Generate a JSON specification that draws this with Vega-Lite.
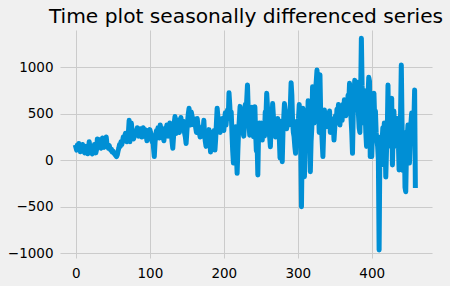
{
"$schema": "https://vega.github.io/schema/vega-lite/v6.json",
"width": 372, "height": 228,
"autosize": {"type": "none"},
"padding": {"left": 60, "top": 30, "right": 18, "bottom": 28},
"background": "#f0f0f0",
"config": {"view": {"stroke": null, "fill": "#f0f0f0"}, "font": "DejaVu Sans"},
"title": {"text": "Time plot seasonally differenced series", "fontSize": 20.2, "fontWeight": "normal", "font": "DejaVu Sans", "color": "#000000", "anchor": "middle", "frame": "group", "baseline": "bottom", "offset": 1, "dy": 18},
"data": {"values": [
{"t":0,"v":140},{"t":1,"v":110},{"t":2,"v":165},{"t":3,"v":120},{"t":4,"v":180},{"t":5,"v":150},{"t":6,"v":92},{"t":7,"v":110},{"t":8,"v":140},{"t":9,"v":170},
{"t":10,"v":120},{"t":11,"v":90},{"t":12,"v":80},{"t":13,"v":110},{"t":14,"v":150},{"t":15,"v":120},{"t":16,"v":70},{"t":17,"v":100},{"t":18,"v":200},{"t":19,"v":140},
{"t":20,"v":110},{"t":21,"v":90},{"t":22,"v":70},{"t":23,"v":130},{"t":24,"v":100},{"t":25,"v":170},{"t":26,"v":140},{"t":27,"v":80},{"t":28,"v":120},{"t":29,"v":230},
{"t":30,"v":180},{"t":31,"v":140},{"t":32,"v":220},{"t":33,"v":160},{"t":34,"v":130},{"t":35,"v":190},{"t":36,"v":240},{"t":37,"v":150},{"t":38,"v":140},{"t":39,"v":180},
{"t":40,"v":200},{"t":41,"v":250},{"t":42,"v":170},{"t":43,"v":150},{"t":44,"v":130},{"t":45,"v":160},{"t":46,"v":130},{"t":47,"v":110},{"t":48,"v":120},{"t":49,"v":90},
{"t":50,"v":100},{"t":51,"v":80},{"t":52,"v":70},{"t":53,"v":60},{"t":54,"v":50},{"t":55,"v":40},{"t":56,"v":60},{"t":57,"v":100},{"t":58,"v":130},{"t":59,"v":170},
{"t":60,"v":150},{"t":61,"v":200},{"t":62,"v":170},{"t":63,"v":200},{"t":64,"v":250},{"t":65,"v":210},{"t":66,"v":260},{"t":67,"v":290},{"t":68,"v":240},{"t":69,"v":200},
{"t":70,"v":250},{"t":71,"v":300},{"t":72,"v":430},{"t":73,"v":200},{"t":74,"v":280},{"t":75,"v":400},{"t":76,"v":310},{"t":77,"v":250},{"t":78,"v":230},{"t":79,"v":260},
{"t":80,"v":300},{"t":81,"v":320},{"t":82,"v":280},{"t":83,"v":350},{"t":84,"v":330},{"t":85,"v":260},{"t":86,"v":300},{"t":87,"v":340},{"t":88,"v":290},{"t":89,"v":250},
{"t":90,"v":310},{"t":91,"v":350},{"t":92,"v":300},{"t":93,"v":260},{"t":94,"v":330},{"t":95,"v":280},{"t":96,"v":210},{"t":97,"v":250},{"t":98,"v":320},{"t":99,"v":270},
{"t":100,"v":330},{"t":101,"v":300},{"t":102,"v":260},{"t":103,"v":200},{"t":104,"v":240},{"t":105,"v":130},{"t":106,"v":40},{"t":107,"v":190},{"t":108,"v":280},{"t":109,"v":320},
{"t":110,"v":260},{"t":111,"v":350},{"t":112,"v":300},{"t":113,"v":240},{"t":114,"v":380},{"t":115,"v":330},{"t":116,"v":270},{"t":117,"v":300},{"t":118,"v":250},{"t":119,"v":210},
{"t":120,"v":320},{"t":121,"v":350},{"t":122,"v":290},{"t":123,"v":380},{"t":124,"v":330},{"t":125,"v":260},{"t":126,"v":300},{"t":127,"v":400},{"t":128,"v":360},{"t":129,"v":300},
{"t":130,"v":200},{"t":131,"v":130},{"t":132,"v":250},{"t":133,"v":400},{"t":134,"v":470},{"t":135,"v":330},{"t":136,"v":290},{"t":137,"v":380},{"t":138,"v":430},{"t":139,"v":350},
{"t":140,"v":300},{"t":141,"v":400},{"t":142,"v":460},{"t":143,"v":380},{"t":144,"v":330},{"t":145,"v":420},{"t":146,"v":370},{"t":147,"v":290},{"t":148,"v":250},{"t":149,"v":180},
{"t":150,"v":300},{"t":151,"v":420},{"t":152,"v":500},{"t":153,"v":560},{"t":154,"v":450},{"t":155,"v":380},{"t":156,"v":520},{"t":157,"v":480},{"t":158,"v":400},{"t":159,"v":450},
{"t":160,"v":380},{"t":161,"v":420},{"t":162,"v":350},{"t":163,"v":300},{"t":164,"v":450},{"t":165,"v":380},{"t":166,"v":330},{"t":167,"v":290},{"t":168,"v":250},{"t":169,"v":350},
{"t":170,"v":300},{"t":171,"v":260},{"t":172,"v":320},{"t":173,"v":430},{"t":174,"v":280},{"t":175,"v":200},{"t":176,"v":150},{"t":177,"v":300},{"t":178,"v":250},{"t":179,"v":200},
{"t":180,"v":330},{"t":181,"v":280},{"t":182,"v":90},{"t":183,"v":200},{"t":184,"v":260},{"t":185,"v":300},{"t":186,"v":180},{"t":187,"v":320},{"t":188,"v":110},{"t":189,"v":230},
{"t":190,"v":400},{"t":191,"v":560},{"t":192,"v":470},{"t":193,"v":350},{"t":194,"v":420},{"t":195,"v":300},{"t":196,"v":380},{"t":197,"v":330},{"t":198,"v":450},{"t":199,"v":360},
{"t":200,"v":320},{"t":201,"v":430},{"t":202,"v":510},{"t":203,"v":380},{"t":204,"v":470},{"t":205,"v":540},{"t":206,"v":450},{"t":207,"v":727},{"t":208,"v":600},{"t":209,"v":450},
{"t":210,"v":520},{"t":211,"v":300},{"t":212,"v":100},{"t":213,"v":-30},{"t":214,"v":320},{"t":215,"v":250},{"t":216,"v":360},{"t":217,"v":80},{"t":218,"v":-140},{"t":219,"v":100},
{"t":220,"v":320},{"t":221,"v":440},{"t":222,"v":580},{"t":223,"v":350},{"t":224,"v":480},{"t":225,"v":400},{"t":226,"v":300},{"t":227,"v":260},{"t":228,"v":400},{"t":229,"v":600},
{"t":230,"v":500},{"t":231,"v":650},{"t":232,"v":810},{"t":233,"v":540},{"t":234,"v":400},{"t":235,"v":270},{"t":236,"v":450},{"t":237,"v":380},{"t":238,"v":570},{"t":239,"v":300},
{"t":240,"v":254},{"t":241,"v":430},{"t":242,"v":576},{"t":243,"v":300},{"t":244,"v":100},{"t":245,"v":200},{"t":246,"v":-158},{"t":247,"v":300},{"t":248,"v":400},{"t":249,"v":280},
{"t":250,"v":350},{"t":251,"v":400},{"t":252,"v":218},{"t":253,"v":380},{"t":254,"v":300},{"t":255,"v":260},{"t":256,"v":520},{"t":257,"v":480},{"t":258,"v":720},{"t":259,"v":576},
{"t":260,"v":420},{"t":261,"v":300},{"t":262,"v":250},{"t":263,"v":146},{"t":264,"v":400},{"t":265,"v":350},{"t":266,"v":610},{"t":267,"v":480},{"t":268,"v":300},{"t":269,"v":420},
{"t":270,"v":250},{"t":271,"v":380},{"t":272,"v":300},{"t":273,"v":450},{"t":274,"v":350},{"t":275,"v":250},{"t":276,"v":25},{"t":277,"v":300},{"t":278,"v":420},{"t":279,"v":-15},
{"t":280,"v":300},{"t":281,"v":450},{"t":282,"v":610},{"t":283,"v":500},{"t":284,"v":400},{"t":285,"v":340},{"t":286,"v":520},{"t":287,"v":450},{"t":288,"v":380},{"t":289,"v":500},
{"t":290,"v":600},{"t":291,"v":835},{"t":292,"v":700},{"t":293,"v":420},{"t":294,"v":300},{"t":295,"v":254},{"t":296,"v":150},{"t":297,"v":75},{"t":298,"v":300},{"t":299,"v":420},
{"t":300,"v":380},{"t":301,"v":450},{"t":302,"v":600},{"t":303,"v":350},{"t":304,"v":150},{"t":305,"v":-500},{"t":306,"v":200},{"t":307,"v":560},{"t":308,"v":360},{"t":309,"v":-176},
{"t":310,"v":100},{"t":311,"v":300},{"t":312,"v":450},{"t":313,"v":250},{"t":314,"v":640},{"t":315,"v":570},{"t":316,"v":540},{"t":317,"v":-122},{"t":318,"v":200},{"t":319,"v":350},
{"t":320,"v":790},{"t":321,"v":600},{"t":322,"v":400},{"t":323,"v":700},{"t":324,"v":750},{"t":325,"v":850},{"t":326,"v":970},{"t":327,"v":800},{"t":328,"v":560},{"t":329,"v":300},
{"t":330,"v":920},{"t":331,"v":500},{"t":332,"v":380},{"t":333,"v":200},{"t":334,"v":40},{"t":335,"v":300},{"t":336,"v":540},{"t":337,"v":450},{"t":338,"v":360},{"t":339,"v":500},
{"t":340,"v":420},{"t":341,"v":380},{"t":342,"v":480},{"t":343,"v":530},{"t":344,"v":300},{"t":345,"v":450},{"t":346,"v":380},{"t":347,"v":300},{"t":348,"v":400},{"t":349,"v":218},
{"t":350,"v":350},{"t":351,"v":480},{"t":352,"v":400},{"t":353,"v":550},{"t":354,"v":450},{"t":355,"v":600},{"t":356,"v":520},{"t":357,"v":380},{"t":358,"v":480},{"t":359,"v":560},
{"t":360,"v":430},{"t":361,"v":600},{"t":362,"v":500},{"t":363,"v":650},{"t":364,"v":560},{"t":365,"v":480},{"t":366,"v":650},{"t":367,"v":560},{"t":368,"v":700},{"t":369,"v":620},
{"t":370,"v":828},{"t":371,"v":600},{"t":372,"v":450},{"t":373,"v":300},{"t":374,"v":75},{"t":375,"v":500},{"t":376,"v":650},{"t":377,"v":860},{"t":378,"v":700},{"t":379,"v":560},
{"t":380,"v":780},{"t":381,"v":840},{"t":382,"v":500},{"t":383,"v":350},{"t":384,"v":300},{"t":385,"v":700},{"t":386,"v":1312},{"t":387,"v":800},{"t":388,"v":600},{"t":389,"v":400},
{"t":390,"v":750},{"t":391,"v":550},{"t":392,"v":300},{"t":393,"v":150},{"t":394,"v":400},{"t":395,"v":700},{"t":396,"v":892},{"t":397,"v":850},{"t":398,"v":40},{"t":399,"v":600},
{"t":400,"v":40},{"t":401,"v":300},{"t":402,"v":500},{"t":403,"v":720},{"t":404,"v":450},{"t":405,"v":530},{"t":406,"v":300},{"t":407,"v":218},{"t":408,"v":150},{"t":409,"v":3},
{"t":410,"v":-965},{"t":411,"v":100},{"t":412,"v":250},{"t":413,"v":-50},{"t":414,"v":200},{"t":415,"v":350},{"t":416,"v":150},{"t":417,"v":400},{"t":418,"v":250},{"t":419,"v":-180},
{"t":420,"v":100},{"t":421,"v":300},{"t":422,"v":810},{"t":423,"v":200},{"t":424,"v":400},{"t":425,"v":300},{"t":426,"v":150},{"t":427,"v":667},{"t":428,"v":-50},{"t":429,"v":300},
{"t":430,"v":530},{"t":431,"v":250},{"t":432,"v":400},{"t":433,"v":350},{"t":434,"v":150},{"t":435,"v":450},{"t":436,"v":200},{"t":437,"v":-104},{"t":438,"v":300},{"t":439,"v":500},
{"t":440,"v":1025},{"t":441,"v":400},{"t":442,"v":-110},{"t":443,"v":200},{"t":444,"v":300},{"t":445,"v":-290},{"t":446,"v":-337},{"t":447,"v":100},{"t":448,"v":250},{"t":449,"v":380},
{"t":450,"v":300},{"t":451,"v":-30},{"t":452,"v":200},{"t":453,"v":400},{"t":454,"v":508},{"t":455,"v":300},{"t":456,"v":500},{"t":457,"v":420},{"t":458,"v":756},{"t":459,"v":-270}
]},
"mark": {"type": "line", "color": "#008fd5", "strokeWidth": 5, "strokeJoin": "round", "strokeCap": "square"},
"encoding": {
"x": {"field": "t", "type": "quantitative", "title": null,
"scale": {"domain": [-21.5, 481.5], "nice": false, "zero": false},
"axis": {"values": [0, 100, 200, 300, 400], "domain": false, "ticks": false, "tickSize": 0, "labelPadding": 8, "labelFontSize": 13.5, "labelColor": "#000000", "labelFont": "DejaVu Sans", "gridColor": "#cbcbcb", "gridWidth": 1, "gridOpacity": 1, "format": "d"}},
"y": {"field": "v", "type": "quantitative", "title": null,
"scale": {"domain": [-1050, 1401], "nice": false, "zero": false},
"axis": {"values": [-1000, -500, 0, 500, 1000], "domain": false, "ticks": false, "tickSize": 0, "labelPadding": 7, "labelFontSize": 13.5, "labelColor": "#000000", "labelFont": "DejaVu Sans", "gridColor": "#cbcbcb", "gridWidth": 1, "gridOpacity": 1, "format": "d"}}
}
}
